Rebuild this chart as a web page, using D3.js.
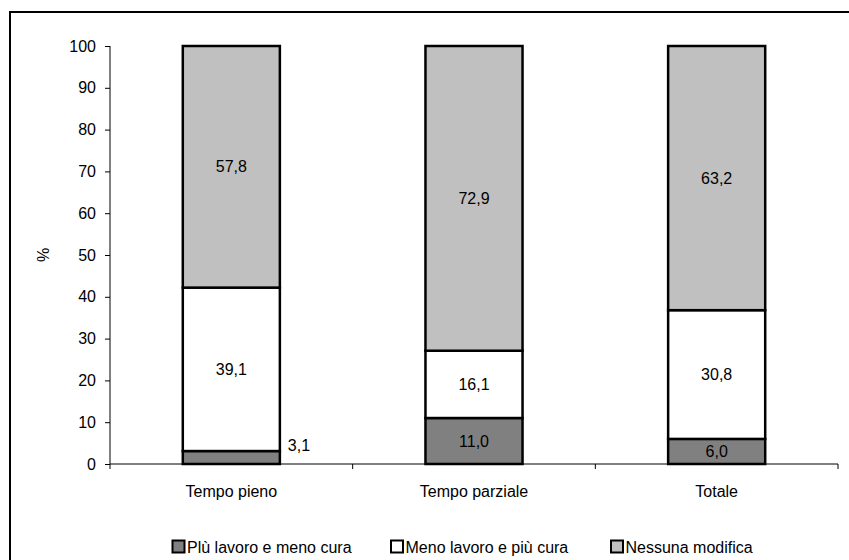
<!DOCTYPE html>
<html>
<head>
<meta charset="utf-8">
<script src="https://cdn.jsdelivr.net/npm/d3@7"></script>
<style>
  html, body { margin: 0; padding: 0; background: #fff; }
  svg { display: block; font-family: Arial, "Liberation Sans", sans-serif; }
</style>
</head>
<body>
<svg id="chart" width="849" height="560"></svg>
<script>
// Categorie di orario e quote percentuali per ciascun esito
const categories = ["Tempo pieno", "Tempo parziale", "Totale"];
const seriesNames = ["Plù lavoro e meno cura", "Meno lavoro e più cura", "Nessuna modifica"];
const piuLavoro = [3.1, 11.0, 6.0];
const menoLavoro = [39.1, 16.1, 30.8];
const nessunaModifica = [57.8, 72.9, 63.2];
const yTicks = [0, 10, 20, 30, 40, 50, 60, 70, 80, 90, 100];
const colors = ["#808080", "#ffffff", "#c0c0c0"];

const seriesValues = [piuLavoro, menoLavoro, nessunaModifica];
const rows = categories.map((c, i) => {
  const r = { cat: c };
  seriesNames.forEach((s, k) => { r[s] = seriesValues[k][i]; });
  return r;
});

const svg = d3.select("#chart");
const W = 849, H = 560;
const FS = 16;

// Cornice esterna del grafico
svg.append("rect")
  .attr("x", 10).attr("y", 12)
  .attr("width", W + 10).attr("height", H + 10)
  .attr("fill", "none").attr("stroke", "#000").attr("stroke-width", 2);

const plotLeft = 110, plotRight = 838, plotTop = 46, plotBottom = 464;
const x = d3.scaleBand().domain(categories).range([plotLeft, plotRight]).paddingInner(0.6).paddingOuter(0.3);
const y = d3.scaleLinear().domain([0, 100]).range([plotBottom, plotTop]);

const stacked = d3.stack().keys(seriesNames)(rows);

const fmt = v => d3.format(".1f")(v).replace(".", ",");

// Segmenti delle barre impilate
const layers = svg.append("g").selectAll("g")
  .data(stacked).join("g")
  .attr("fill", (d, i) => colors[i]);

layers.selectAll("rect")
  .data(d => d).join("rect")
  .attr("x", d => x(d.data.cat))
  .attr("y", d => y(d[1]))
  .attr("width", x.bandwidth())
  .attr("height", d => y(d[0]) - y(d[1]))
  .attr("stroke", "#000").attr("stroke-width", 2.5);

// Etichette dei valori
stacked.forEach(layer => {
  layer.forEach(d => {
    const v = d[1] - d[0];
    const h = y(d[0]) - y(d[1]);
    const small = h < 18;
    svg.append("text")
      .attr("x", small ? x(d.data.cat) + x.bandwidth() + 8 : x(d.data.cat) + x.bandwidth() / 2)
      .attr("y", small ? y(d[1]) - 6 : (y(d[0]) + y(d[1])) / 2)
      .attr("text-anchor", small ? "start" : "middle")
      .attr("dominant-baseline", "central")
      .attr("font-size", FS)
      .attr("fill", "#000")
      .text(fmt(v));
  });
});

// Asse Y
const yAxis = svg.append("g")
  .attr("transform", `translate(${plotLeft},0)`)
  .call(d3.axisLeft(y).tickValues(yTicks).tickSize(5).tickPadding(9).tickFormat(d3.format("d")));
yAxis.select(".domain").attr("stroke", "#000").attr("d", `M0,${plotBottom}V${plotTop}`);
yAxis.selectAll("text").attr("font-size", FS).attr("font-family", "Arial, 'Liberation Sans', sans-serif").attr("fill", "#000");

// Asse X con tacche ai confini delle categorie
const xAxisG = svg.append("g").attr("transform", `translate(0,${plotBottom})`);
xAxisG.append("line").attr("x1", plotLeft).attr("x2", plotRight).attr("stroke", "#000");
const step = (plotRight - plotLeft) / categories.length;
d3.range(categories.length + 1).forEach(i => {
  xAxisG.append("line")
    .attr("x1", plotLeft + i * step).attr("x2", plotLeft + i * step)
    .attr("y1", 0).attr("y2", 5).attr("stroke", "#000");
});
categories.forEach(c => {
  xAxisG.append("text")
    .attr("x", x(c) + x.bandwidth() / 2)
    .attr("y", 33)
    .attr("text-anchor", "middle")
    .attr("font-size", FS)
    .text(c);
});

// Titolo asse Y
svg.append("text")
  .attr("transform", `translate(43,${(plotTop + plotBottom) / 2}) rotate(-90)`)
  .attr("text-anchor", "middle")
  .attr("dominant-baseline", "central")
  .attr("font-size", FS)
  .text("%");

// Legenda
const legendX = [172.5, 391, 611];
const legend = svg.append("g").attr("transform", "translate(0,547)");
seriesNames.forEach((s, i) => {
  legend.append("rect")
    .attr("x", legendX[i]).attr("y", -6.5)
    .attr("width", 12).attr("height", 12)
    .attr("fill", colors[i]).attr("stroke", "#000").attr("stroke-width", 2);
  legend.append("text")
    .attr("x", legendX[i] + 14.5).attr("y", 0)
    .attr("dominant-baseline", "central")
    .attr("font-size", FS)
    .text(s);
});
</script>
</body>
</html>
